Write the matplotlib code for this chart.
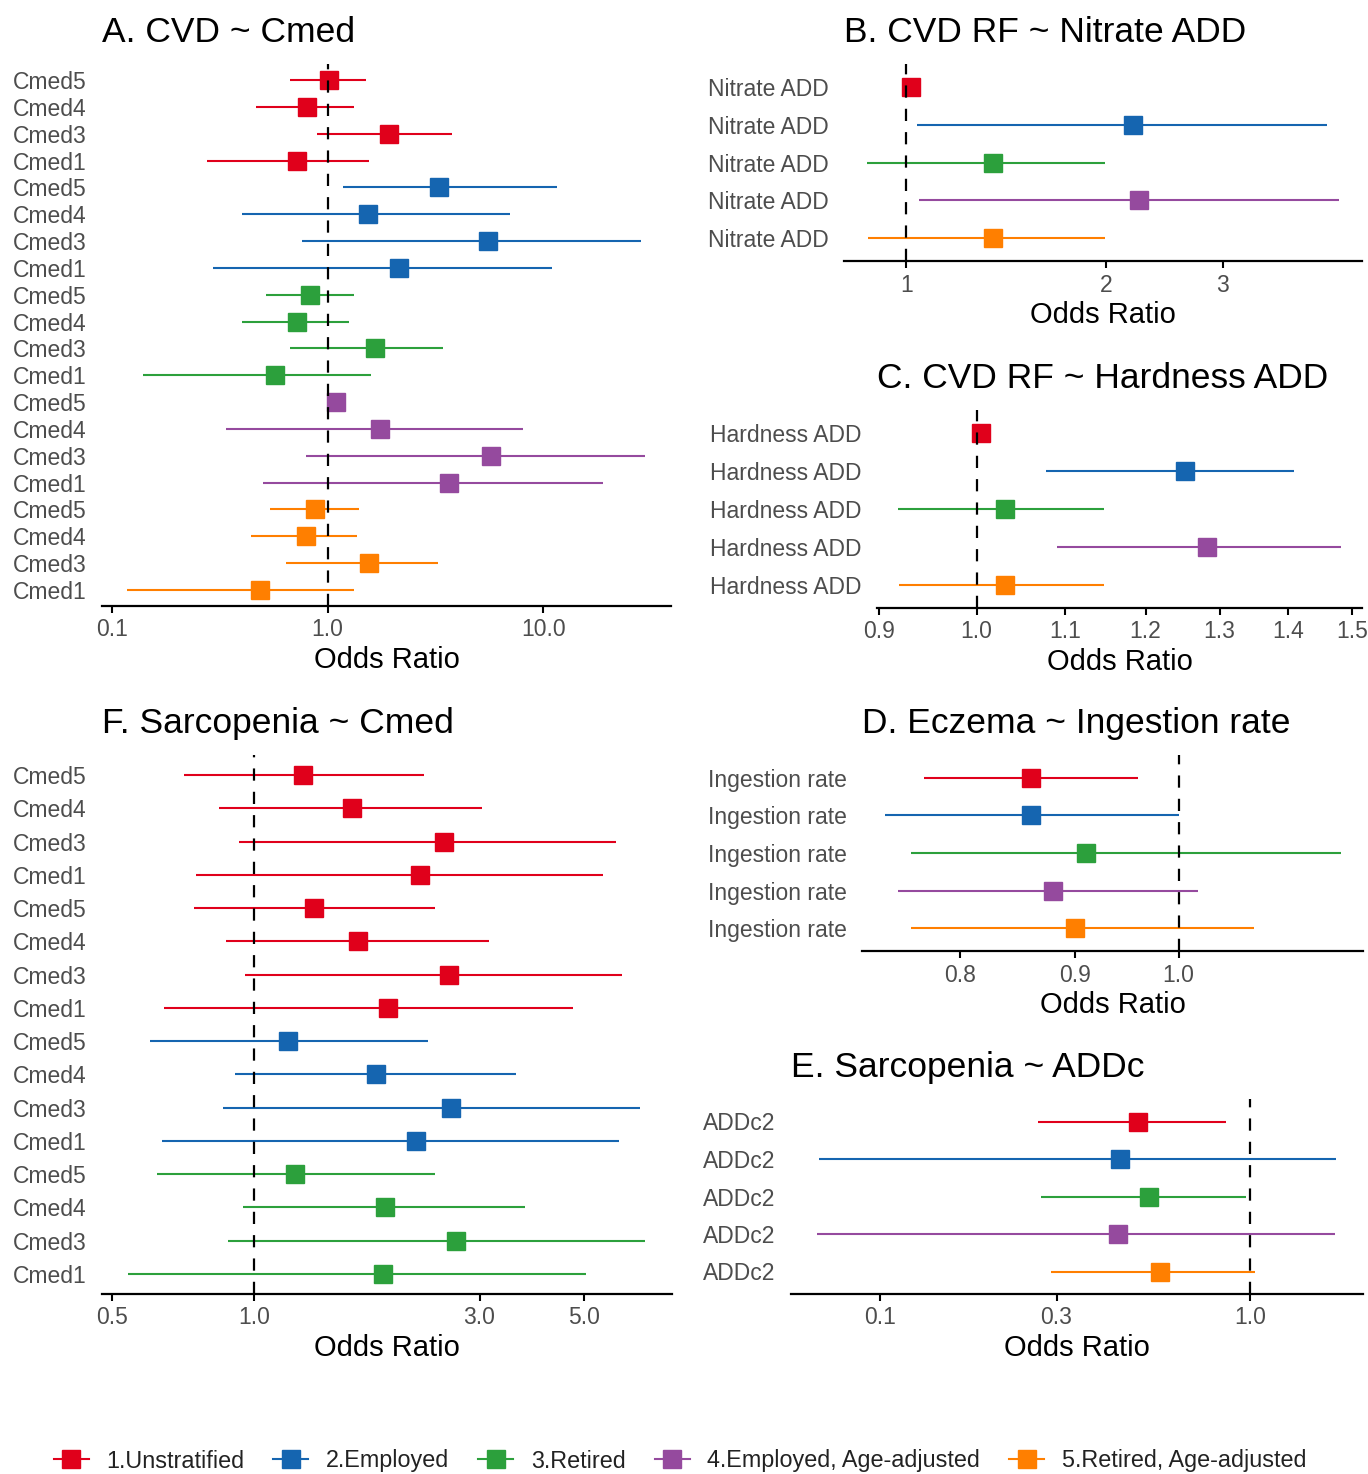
import numpy as np
import matplotlib
matplotlib.use("Agg")
import matplotlib.pyplot as plt
from matplotlib.lines import Line2D

plt.rcParams['font.family'] = ['Liberation Sans', 'DejaVu Sans']

nan = np.nan

# группы (цвета) и подписи легенды
group_names = ['1.Unstratified', '2.Employed', '3.Retired',
               '4.Employed, Age-adjusted', '5.Retired, Age-adjusted']
group_colors = ['#E0001B', '#1565B0', '#2CA03C', '#954A9E', '#FF7F00']

# A. CVD ~ Cmed (сверху вниз)
a_labels = ['Cmed5', 'Cmed4', 'Cmed3', 'Cmed1'] * 5
a_group = [0] * 4 + [1] * 4 + [2] * 4 + [3] * 4 + [4] * 4
a_or = [1.01, 0.80, 1.93, 0.72,
        3.28, 1.54, 5.55, 2.14,
        0.83, 0.72, 1.65, 0.57,
        1.09, 1.75, 5.73, 3.64,
        0.87, 0.79, 1.55, 0.485]
a_lo = [0.67, 0.465, 0.895, 0.275,
        1.18, 0.40, 0.764, 0.295,
        0.52, 0.40, 0.67, 0.139,
        nan, 0.339, 0.797, 0.50,
        0.542, 0.44, 0.64, 0.118]
a_hi = [1.50, 1.32, 3.75, 1.55,
        11.55, 7.03, 28.4, 11.0,
        1.33, 1.25, 3.44, 1.58,
        nan, 8.0, 29.4, 18.8,
        1.39, 1.365, 3.24, 1.33]

# B. CVD RF ~ Nitrate ADD
b_labels = ['Nitrate ADD'] * 5
b_group = [0, 1, 2, 3, 4]
b_or = [1.018, 2.20, 1.35, 2.24, 1.35]
b_lo = [nan, 1.038, 0.873, 1.045, 0.876]
b_hi = [nan, 4.31, 1.99, 4.49, 1.99]

# C. CVD RF ~ Hardness ADD
c_labels = ['Hardness ADD'] * 5
c_group = [0, 1, 2, 3, 4]
c_or = [1.005, 1.252, 1.031, 1.283, 1.031]
c_lo = [nan, 1.078, 0.919, 1.091, 0.920]
c_hi = [nan, 1.408, 1.148, 1.482, 1.148]

# D. Eczema ~ Ingestion rate
d_labels = ['Ingestion rate'] * 5
d_group = [0, 1, 2, 3, 4]
d_or = [0.860, 0.860, 0.910, 0.880, 0.900]
d_lo = [0.771, 0.741, 0.761, 0.751, 0.761]
d_hi = [0.959, 1.000, 1.180, 1.020, 1.080]

# E. Sarcopenia ~ ADDc
e_labels = ['ADDc2'] * 5
e_group = [0, 1, 2, 3, 4]
e_or = [0.497, 0.444, 0.535, 0.439, 0.571]
e_lo = [0.268, 0.0685, 0.273, 0.0676, 0.290]
e_hi = [0.861, 1.71, 0.973, 1.695, 1.033]

# F. Sarcopenia ~ Cmed
f_labels = ['Cmed5', 'Cmed4', 'Cmed3', 'Cmed1'] * 4
f_group = [0] * 8 + [1] * 4 + [2] * 4
f_or = [1.27, 1.61, 2.52, 2.24,
        1.34, 1.66, 2.59, 1.92,
        1.18, 1.81, 2.61, 2.20,
        1.22, 1.89, 2.67, 1.87]
f_lo = [0.709, 0.842, 0.928, 0.752,
        0.746, 0.87, 0.956, 0.644,
        0.602, 0.909, 0.86, 0.638,
        0.623, 0.948, 0.882, 0.54]
f_hi = [2.29, 3.03, 5.85, 5.47,
        2.41, 3.14, 6.02, 4.73,
        2.33, 3.59, 6.57, 5.93,
        2.41, 3.74, 6.72, 5.05]

W, H = 1368, 1474
fig = plt.figure(figsize=(W / 100, H / 100), dpi=100)


def px_axes(left, right, top, bottom):
    return fig.add_axes([left / W, 1 - bottom / H, (right - left) / W, (bottom - top) / H])


def forest(ax, title, labels, groups, ors, los, his, xlim, ticks, ticklabels):
    n = len(labels)
    ys = np.arange(n, 0, -1)
    for y, g, o, lo, hi in zip(ys, groups, ors, los, his):
        col = group_colors[g]
        if not np.isnan(lo):
            ax.plot([lo, hi], [y, y], color=col, lw=1.5, solid_capstyle='butt', zorder=2)
        ax.plot(o, y, 's', color=col, markersize=13.5, zorder=3)
    ax.axvline(1.0, color='black', lw=1.6, linestyle=(0, (5.5, 5)), zorder=4)
    ax.set_xscale('log')
    ax.set_xlim(*xlim)
    ax.set_ylim(0.4, n + 0.6)
    ax.set_xticks(ticks)
    ax.set_xticklabels(ticklabels)
    ax.minorticks_off()
    ax.set_yticks(ys)
    ax.set_yticklabels(labels)
    ax.tick_params(axis='y', length=0, pad=11, labelsize=16.5, labelcolor='#4D4D4D')
    ax.tick_params(axis='x', length=5, width=1.5, pad=4, labelsize=16.5,
                   labelcolor='#4D4D4D', color='black')
    for s in ['top', 'right', 'left']:
        ax.spines[s].set_visible(False)
    ax.spines['bottom'].set_linewidth(1.6)
    ax.set_xlabel('Odds Ratio', fontsize=21, labelpad=3)
    ax.set_title(title, loc='left', fontsize=25.5, pad=16)


ax_a = px_axes(102, 671, 64, 606)
forest(ax_a, 'A. CVD ~ Cmed', a_labels, a_group, a_or, a_lo, a_hi,
       (0.09, 39), [0.1, 1.0, 10.0], ['0.1', '1.0', '10.0'])

ax_b = px_axes(844, 1362, 64, 261)
forest(ax_b, 'B. CVD RF ~ Nitrate ADD', b_labels, b_group, b_or, b_lo, b_hi,
       (0.806, 4.86), [1, 2, 3], ['1', '2', '3'])

ax_c = px_axes(877, 1362, 410, 608)
c_ticks = [0.9, 1.0, 1.1, 1.2, 1.3, 1.4, 1.5]
forest(ax_c, 'C. CVD RF ~ Hardness ADD', c_labels, c_group, c_or, c_lo, c_hi,
       (0.898, 1.516), c_ticks, [f'{t:.1f}' for t in c_ticks])

ax_f = px_axes(102, 672, 755, 1294)
forest(ax_f, 'F. Sarcopenia ~ Cmed', f_labels, f_group, f_or, f_lo, f_hi,
       (0.476, 7.67), [0.5, 1.0, 3.0, 5.0], ['0.5', '1.0', '3.0', '5.0'])

ax_d = px_axes(862, 1363, 755, 951)
forest(ax_d, 'D. Eczema ~ Ingestion rate', d_labels, d_group, d_or, d_lo, d_hi,
       (0.724, 1.207), [0.8, 0.9, 1.0], ['0.8', '0.9', '1.0'])

ax_e = px_axes(791, 1363, 1099, 1294)
forest(ax_e, 'E. Sarcopenia ~ ADDc', e_labels, e_group, e_or, e_lo, e_hi,
       (0.0575, 2.02), [0.1, 0.3, 1.0], ['0.1', '0.3', '1.0'])

handles = [Line2D([], [], color=c, lw=1.5, marker='s', markersize=13) for c in group_colors]
leg = fig.legend(handles, group_names, loc='center', ncol=5, frameon=False,
                 bbox_to_anchor=(0.497, 1 - 1461 / H), fontsize=16.8,
                 handlelength=1.5, handletextpad=0.75, columnspacing=1.25)
for t in leg.get_texts():
    t.set_color('#222222')

fig.savefig('out.png', dpi=100)
